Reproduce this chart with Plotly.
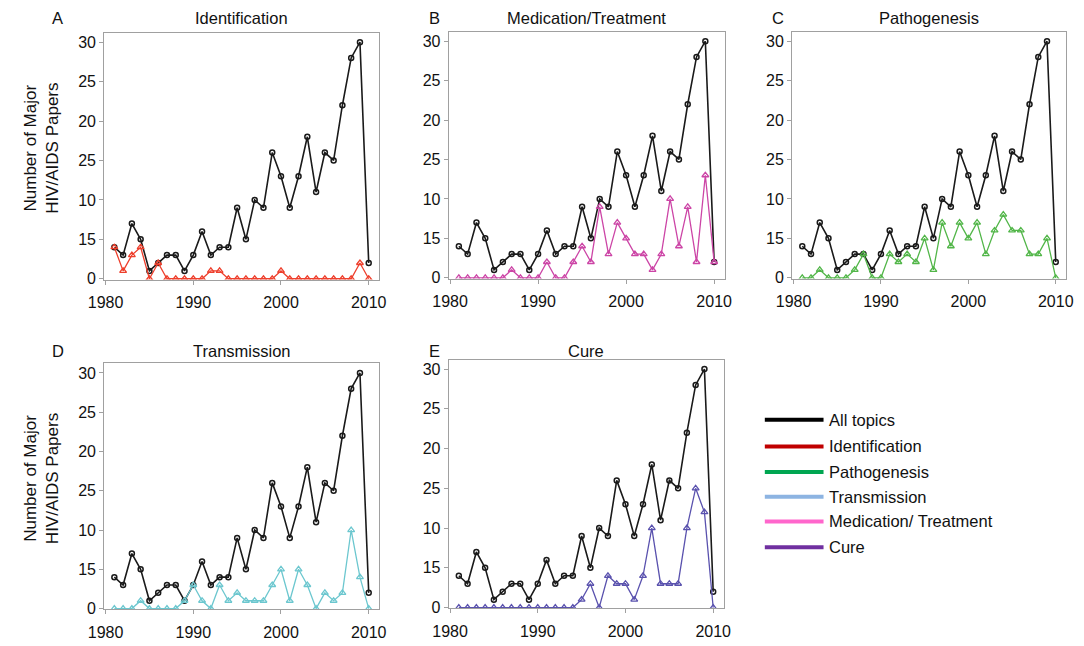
import plotly.graph_objects as go

years = list(range(1981, 2011))

all_topics = [4, 3, 7, 5, 1, 2, 3, 3, 1, 3, 6, 3, 4, 4, 9, 5, 10, 9, 16, 13, 9, 13, 18, 11, 16, 15, 22, 28, 30, 2]
identification = [4, 1, 3, 4, 0, 2, 0, 0, 0, 0, 0, 1, 1, 0, 0, 0, 0, 0, 0, 1, 0, 0, 0, 0, 0, 0, 0, 0, 2, 0]
medication = [0, 0, 0, 0, 0, 0, 1, 0, 0, 0, 2, 0, 0, 2, 4, 2, 9, 3, 7, 5, 3, 3, 1, 3, 10, 4, 9, 2, 13, 2]
pathogenesis = [0, 0, 1, 0, 0, 0, 1, 3, 0, 0, 3, 2, 3, 2, 5, 1, 7, 4, 7, 5, 7, 3, 6, 8, 6, 6, 3, 3, 5, 0]
transmission = [0, 0, 0, 1, 0, 0, 0, 0, 1, 3, 1, 0, 3, 1, 2, 1, 1, 1, 3, 5, 1, 5, 3, 0, 2, 1, 2, 10, 4, 0]
cure = [0, 0, 0, 0, 0, 0, 0, 0, 0, 0, 0, 0, 0, 0, 1, 3, 0, 4, 3, 3, 1, 4, 10, 3, 3, 3, 10, 15, 12, 0]

ytick_vals = [0, 5, 10, 15, 20, 25, 30]
ytick_text = ["0", "15", "10", "25", "20", "25", "30"]
xtick_vals = [1980, 1990, 2000, 2010]

panels = [
    ("A", "Identification", identification, "#ee3f2c"),
    ("B", "Medication/Treatment", medication, "#cc45a6"),
    ("C", "Pathogenesis", pathogenesis, "#52b649"),
    ("D", "Transmission", transmission, "#6cc7cf"),
    ("E", "Cure", cure, "#5a52ae"),
]

legend_names = ["All topics", "Identification", "Pathogenesis", "Transmission", "Medication/ Treatment", "Cure"]
legend_colors = ["#000000", "#c00000", "#00a651", "#8db4e2", "#ff66cc", "#7030a0"]

OFF = 8  # page body margin
W, H = 1084 - OFF, 646 - OFF


def px(x):
    return (x - OFF) / W


def py(y):
    return 1 - (y - OFF) / H


# pixel boxes [left, top, right, bottom] in window coordinates
boxes = [
    (90, 33, 371, 283),
    (442, 32, 724, 282),
    (793, 32, 1073, 282),
    (90, 368, 371, 617),
    (442, 364, 723, 616),
]
letter_x = [35, 420, 770, 35, 420]
title_y = [18, 18, 18, 355, 355]

FONT = "Liberation Sans, Arial, sans-serif"
fig = go.Figure()
annotations = []
shapes = []

for i, ((letter, title, series, color), (l, t, r, b)) in enumerate(zip(panels, boxes)):
    n = "" if i == 0 else str(i + 1)
    xa, ya = "x" + n, "y" + n
    fig.add_trace(go.Scatter(
        x=years, y=all_topics, mode="lines+markers", xaxis=xa, yaxis=ya,
        line=dict(color="#1a1a1a", width=1.6),
        marker=dict(symbol="circle-open", size=5, color="#1a1a1a", line=dict(width=1.5)),
        showlegend=False, hoverinfo="skip"))
    fig.add_trace(go.Scatter(
        x=years, y=series, mode="lines+markers", xaxis=xa, yaxis=ya,
        line=dict(color=color, width=1.3),
        marker=dict(symbol="triangle-up-open", size=6, color=color, line=dict(width=1.3)),
        showlegend=False, hoverinfo="skip"))
    common = dict(showline=True, linecolor="#a0a0a0", linewidth=1.2, mirror=True,
                  showgrid=False, zeroline=False, ticks="outside", ticklen=4,
                  tickcolor="#a0a0a0", tickfont=dict(family=FONT, size=16, color="#111"))
    fig.layout["xaxis" + n] = dict(
        domain=[px(l), px(r)], anchor=ya, range=[1979.85, 2011.2],
        tickvals=xtick_vals, ticklabelstandoff=4, **common)
    fig.layout["yaxis" + n] = dict(
        domain=[py(b), py(t)], anchor=xa, range=[-0.1, 31.2],
        tickvals=ytick_vals, ticktext=ytick_text, **common)
    cx = (l + r) / 2
    annotations.append(dict(text=title, x=px(cx), y=py(title_y[i]), xref="paper", yref="paper",
                            showarrow=False, font=dict(family=FONT, size=16.5, color="#111"),
                            xanchor="center", yanchor="middle"))
    annotations.append(dict(text=letter, x=px(letter_x[i]), y=py(title_y[i]), xref="paper", yref="paper",
                            showarrow=False, font=dict(family=FONT, size=16.5, color="#111"),
                            xanchor="left", yanchor="middle"))
    if letter in ("A", "D"):
        annotations.append(dict(text="Number of Major<br>HIV/AIDS Papers", x=px(26), y=py((t + b) / 2 - 8),
                                xref="paper", yref="paper", showarrow=False, textangle=-90,
                                font=dict(family=FONT, size=17, color="#111"),
                                xanchor="center", yanchor="middle"))

legend_rows = [425, 452, 478, 503, 528, 554]
for name, col, yy in zip(legend_names, legend_colors, legend_rows):
    shapes.append(dict(type="line", xref="paper", yref="paper",
                       x0=px(765), x1=px(825), y0=py(yy), y1=py(yy),
                       line=dict(color=col, width=4)))
    annotations.append(dict(text=name, x=px(829), y=py(yy), xref="paper", yref="paper",
                            showarrow=False, xanchor="left", yanchor="middle",
                            font=dict(family=FONT, size=16.5, color="#111")))

fig.update_layout(width=W, height=H, margin=dict(l=0, r=0, t=0, b=0),
                  paper_bgcolor="white", plot_bgcolor="white",
                  annotations=annotations, shapes=shapes, showlegend=False)
fig.write_html("out.html")
